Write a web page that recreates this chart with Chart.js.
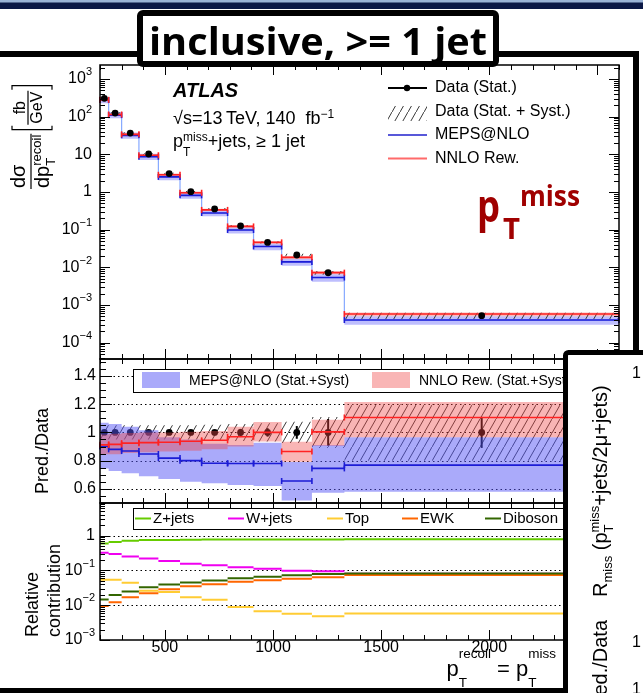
<!DOCTYPE html>
<html>
<head>
<meta charset="utf-8">
<title>pTmiss inclusive</title>
<script src="https://cdn.jsdelivr.net/npm/chart.js@4.4.1/dist/chart.umd.min.js"></script>
<style>
  html, body { margin: 0; padding: 0; background: #fff; }
  body { position: relative; width: 643px; height: 693px; overflow: hidden; }
  canvas { position: absolute; left: 0; }
</style>
</head>
<body>
<canvas id="spectrum" width="643" height="369" style="top:0px"></canvas>
<canvas id="ratio" width="643" height="164" style="top:349px"></canvas>
<canvas id="fractions" width="643" height="200" style="top:493px"></canvas>
<canvas id="slide" width="643" height="693" style="top:0px"></canvas>
<script>
const FONT = '"Liberation Sans", Arial, sans-serif';

// binning in GeV
const binEdges = [200, 240, 300, 380, 470, 570, 670, 790, 910, 1040, 1180, 1330, 2600];

// measured cross section [fb/GeV] and relative uncertainties
const dataXsec = [307, 125, 36.8, 10.2, 3.08, 1.02, 0.355, 0.126, 0.046, 0.0213, 0.0072, 0.00052];
const dataStat = [0.005, 0.006, 0.008, 0.01, 0.012, 0.015, 0.018, 0.025, 0.03, 0.045, 0.095, 0.11];
const dataSyst = [0.05, 0.05, 0.05, 0.05, 0.05, 0.05, 0.055, 0.06, 0.065, 0.075, 0.11, 0.2];

// predictions divided by data
const mepsRatio = [0.90, 0.88, 0.868, 0.847, 0.818, 0.80, 0.782, 0.78, 0.78, 0.656, 0.745, 0.768];
const mepsLo = [0.745, 0.727, 0.71, 0.69, 0.67, 0.65, 0.64, 0.627, 0.62, 0.517, 0.573, 0.58];
const mepsHi = [1.068, 1.059, 1.04, 1.016, 0.965, 0.95, 0.92, 0.91, 0.926, 0.79, 0.91, 0.965];
const nnloRatio = [0.912, 0.915, 0.924, 0.928, 0.93, 0.937, 0.944, 0.969, 1.0, 0.865, 1.004, 1.106];
const nnloLo = [0.845, 0.845, 0.855, 0.86, 0.865, 0.87, 0.88, 0.90, 0.935, 0.792, 0.905, 0.965];
const nnloHi = [0.985, 0.99, 0.995, 1.0, 1.0, 1.005, 1.01, 1.04, 1.073, 0.934, 1.09, 1.216];

// relative contribution of each process
const zJets = [0.59, 0.65, 0.71, 0.74, 0.75, 0.76, 0.77, 0.77, 0.77, 0.77, 0.77, 0.78];
const wJets = [0.32, 0.295, 0.25, 0.22, 0.185, 0.155, 0.139, 0.122, 0.112, 0.098, 0.094, 0.08];
const topQuark = [0.054, 0.054, 0.044, 0.026, 0.024, 0.017, 0.0144, 0.0088, 0.0067, 0.0057, 0.0048, 0.0058];
const ewk = [0.0094, 0.0122, 0.017, 0.022, 0.0287, 0.035, 0.040, 0.047, 0.052, 0.057, 0.063, 0.074];
const diboson = [0.0146, 0.0195, 0.0246, 0.0327, 0.039, 0.0446, 0.0508, 0.059, 0.066, 0.072, 0.079, 0.081];

// axis ticks
const xTicks = [500, 1000, 1500, 2000, 2500];
const xLabels = ['500', '1000', '1500', '2000', '2500'];
const mainYTicks = [1e3, 1e2, 10, 1, 1e-1, 1e-2, 1e-3, 1e-4];
const mainYLabels = ['10^3', '10^2', '10', '1', '10^-1', '10^-2', '10^-3', '10^-4'];
const ratioYTicks = [0.6, 0.8, 1, 1.2, 1.4];
const ratioYLabels = ['0.6', '0.8', '1', '1.2', '1.4'];
const relYTicks = [1, 0.1, 0.01, 0.001];
const relYLabels = ['1', '10^-1', '10^-2', '10^-3'];

const hatch = makeHatch();

function makeHatch() {
	const c = document.createElement('canvas');
	c.width = 8; c.height = 14;
	const g = c.getContext('2d');
	g.strokeStyle = '#3a3a3a';
	g.lineWidth = 1;
	g.beginPath();
	g.moveTo(-1, 15.75); g.lineTo(9, -1.75);
	g.stroke();
	return g.createPattern(c, 'repeat');
}

function font(size, style) {
	return (style || '') + ' ' + size + 'px ' + FONT;
}

function seg(ctx, x1, y1, x2, y2) {
	ctx.beginPath(); ctx.moveTo(x1, y1); ctx.lineTo(x2, y2); ctx.stroke();
}

// text runs with sub/superscripts, adv:false keeps the pen where it is
function drawRuns(ctx, runs, x, y, align) {
	let total = 0;
	runs.forEach(r => {
		ctx.font = font(r.size, r.style);
		r.w = ctx.measureText(r.t).width;
		if (r.adv !== false) total += r.w;
	});
	let cx = align === 'right' ? x - total : align === 'center' ? x - total / 2 : x;
	ctx.textAlign = 'left';
	runs.forEach(r => {
		ctx.font = font(r.size, r.style);
		ctx.fillText(r.t, cx, y + (r.dy || 0));
		if (r.adv !== false) cx += r.w;
	});
}

function tickLabel(ctx, lbl, x, y, size, align) {
	const parts = lbl.split('^');
	const runs = [{t: parts[0], size: size}];
	if (parts[1]) runs.push({t: parts[1].replace('-', '\u2212'), size: Math.round(size * 0.7), dy: -size * 0.42});
	drawRuns(ctx, runs, x, y, align);
}

function binCenters() {
	return binEdges.slice(0, -1).map((e, i) => (e + binEdges[i + 1]) / 2);
}

function stepLine(vals) {
	const pts = vals.map((v, i) => ({x: binEdges[i], y: v}));
	pts.push({x: binEdges[vals.length], y: vals[vals.length - 1]});
	return pts;
}

function segments(vals) {
	const pts = [];
	vals.forEach((v, i) => {
		pts.push({x: binEdges[i], y: v}, {x: binEdges[i + 1], y: v}, {x: binEdges[i + 1], y: null});
	});
	return pts;
}

function pushBand(ds, lo, hi, color, order) {
	const loIndex = ds.length;
	ds.push({data: stepLine(lo), stepped: 'before', borderColor: 'rgba(0,0,0,0)', borderWidth: 0, fill: false, order: order});
	ds.push({data: stepLine(hi), stepped: 'before', borderColor: 'rgba(0,0,0,0)', borderWidth: 0, backgroundColor: color, fill: {target: loIndex}, order: order - 1});
}

function yTickList(scale, cfg) {
	const out = [];
	if (cfg.log) {
		for (let d = Math.floor(Math.log10(scale.min)); d <= Math.ceil(Math.log10(scale.max)); d++) {
			for (let k = 1; k <= 9; k++) {
				const v = k * Math.pow(10, d);
				if (v >= scale.min && v <= scale.max) out.push({v: v, major: k === 1});
			}
		}
	} else {
		for (let i = 10; i <= 30; i++) out.push({v: i * 0.05, major: i % 4 === 0});
	}
	return out;
}

// ROOT style frame: inward ticks on all four sides, labels, dotted guides
function rootAxes(cfg) {
	return {
		id: 'rootAxes',
		beforeDatasetsDraw(chart) {
			const {ctx, chartArea: a, scales: {y}} = chart;
			ctx.save();
			ctx.strokeStyle = '#000';
			ctx.lineWidth = 1;
			ctx.setLineDash([1.5, 3]);
			(cfg.dotted || []).forEach(v => {
				const py = Math.round(y.getPixelForValue(v)) + 0.5;
				seg(ctx, a.left, py, a.right, py);
			});
			ctx.restore();
		},
		afterDatasetDraw(chart, args) {
			const ds = chart.data.datasets[args.index];
			const {ctx, scales: {x, y}} = chart;
			ctx.save();
			if (ds.caps) {
				ctx.strokeStyle = ds.borderColor;
				ctx.lineWidth = ds.borderWidth;
				ds.data.forEach(p => {
					if (p.y == null) return;
					const px = x.getPixelForValue(p.x), py = y.getPixelForValue(p.y);
					seg(ctx, px, py - 3, px, py + 3);
				});
			}
			if (ds.yErr) {
				ctx.strokeStyle = '#000';
				ctx.lineWidth = ds.errWidth;
				ds.data.forEach((p, i) => {
					const e = ds.yErr[i];
					const px = x.getPixelForValue(p.x);
					seg(ctx, px, y.getPixelForValue(p.y - e), px, y.getPixelForValue(p.y + e));
				});
			}
			ctx.restore();
		},
		afterDraw(chart) {
			const {ctx, chartArea: a, scales: {x, y}} = chart;
			ctx.save();
			ctx.strokeStyle = '#000';
			ctx.fillStyle = '#000';
			ctx.lineWidth = 1;
			for (let v = 200; v <= 2600; v += 100) {
				const px = Math.round(x.getPixelForValue(v)) + 0.5;
				const len = v % 500 === 0 ? cfg.xMajor : cfg.xMinor;
				seg(ctx, px, a.bottom, px, a.bottom - len);
				seg(ctx, px, a.top, px, a.top + len);
			}
			yTickList(y, cfg).forEach(t => {
				const py = Math.round(y.getPixelForValue(t.v)) + 0.5;
				const len = t.major ? cfg.yMajor : cfg.yMinor;
				seg(ctx, a.left, py, a.left + len, py);
				seg(ctx, a.right, py, a.right - len, py);
			});
			ctx.lineWidth = 1.5;
			ctx.strokeRect(a.left, a.top, a.right - a.left, a.bottom - a.top);

			ctx.textBaseline = 'middle';
			cfg.yTicks.forEach((v, i) => tickLabel(ctx, cfg.yLabels[i], cfg.labelRight, y.getPixelForValue(v), 16, 'right'));
			if (cfg.xLabels) {
				xTicks.forEach((v, i) => tickLabel(ctx, xLabels[i], x.getPixelForValue(v), cfg.xLabelY, 16, 'center'));
			}
			ctx.textBaseline = 'alphabetic';
			if (cfg.extra) {
				ctx.translate(0, -cfg.offset);
				cfg.extra(ctx);
			}
			ctx.restore();
		}
	};
}

function baseOptions(yScale, pad) {
	return {
		responsive: false,
		animation: false,
		devicePixelRatio: 1,
		events: [],
		layout: {padding: pad},
		elements: {point: {radius: 0, hoverRadius: 0}, line: {tension: 0}},
		scales: {
			x: {type: 'linear', min: 200, max: 2600, display: false},
			y: Object.assign({display: false}, yScale)
		},
		plugins: {legend: {display: false}, tooltip: {enabled: false}}
	};
}

function bracket(ctx, u, v0, v1, dir) {
	ctx.beginPath();
	ctx.moveTo(u + 4 * dir, v0); ctx.lineTo(u, v0); ctx.lineTo(u, v1); ctx.lineTo(u + 4 * dir, v1);
	ctx.stroke();
}

function spectrumText(ctx) {
	// y title: dsigma/dpT [fb/GeV]
	ctx.save();
	ctx.translate(31, 189);
	ctx.rotate(-Math.PI / 2);
	ctx.textAlign = 'left';
	ctx.font = font(20);
	const wdp = ctx.measureText('dp').width;
	ctx.fillText('d\u03C3', 1, -6);
	ctx.fillText('dp', 1, 18);
	ctx.font = font(13);
	ctx.fillText('T', 1 + wdp, 24);
	ctx.fillText('recoil', 1 + wdp, 10);
	const end = 2 + wdp + ctx.measureText('recoil').width;
	ctx.lineWidth = 1.2;
	seg(ctx, 0, 0, end, 0);
	const b0 = end + 4;
	ctx.font = font(16);
	const wG = ctx.measureText('GeV').width, wf = ctx.measureText('fb').width;
	bracket(ctx, b0, -19, 21, 1);
	ctx.fillText('fb', b0 + 6 + (wG - wf) / 2, -6);
	ctx.fillText('GeV', b0 + 6, 11);
	seg(ctx, b0 + 5, -3, b0 + 7 + wG, -3);
	bracket(ctx, b0 + 12 + wG, -19, 21, -1);
	ctx.restore();

	ctx.fillStyle = '#000';
	ctx.font = font(20, 'italic bold');
	ctx.fillText('ATLAS', 173, 97);
	drawRuns(ctx, [
		{t: '\u221As=13\u2009TeV, 140  fb', size: 18},
		{t: '\u22121', size: 12, dy: -6}
	], 173, 124, 'left');
	drawRuns(ctx, [
		{t: 'p', size: 18},
		{t: 'T', size: 12, dy: 9, adv: false},
		{t: 'miss', size: 12, dy: -6},
		{t: '+jets, \u2265 1 jet', size: 18}
	], 173, 147, 'left');

	// legend
	ctx.strokeStyle = '#000';
	ctx.lineWidth = 2;
	seg(ctx, 388, 88, 427, 88);
	ctx.beginPath(); ctx.arc(407, 88, 3.2, 0, Math.PI * 2); ctx.fill();
	ctx.fillStyle = hatch;
	ctx.fillRect(388, 106, 39, 15);
	ctx.lineWidth = 1.5;
	ctx.strokeStyle = '#2020cc';
	seg(ctx, 388, 135, 427, 135);
	ctx.lineWidth = 2;
	ctx.strokeStyle = '#ff6a6a';
	seg(ctx, 388, 158.5, 427, 158.5);
	ctx.fillStyle = '#000';
	ctx.font = font(16);
	ctx.textBaseline = 'middle';
	ctx.fillText('Data (Stat.)', 435, 88);
	ctx.fillText('Data (Stat. + Syst.)', 435, 112);
	ctx.fillText('MEPS@NLO', 435, 134.5);
	ctx.fillText('NNLO Rew.', 435, 158.5);
	ctx.textBaseline = 'alphabetic';
}

function ratioText(ctx) {
	ctx.save();
	ctx.translate(48, 451);
	ctx.rotate(-Math.PI / 2);
	ctx.textAlign = 'center';
	ctx.font = font(18);
	ctx.fillText('Pred./Data', 0, 0);
	ctx.restore();

	ctx.fillStyle = '#fff';
	ctx.fillRect(133, 369, 470, 23);
	ctx.strokeStyle = '#000';
	ctx.lineWidth = 1;
	ctx.strokeRect(133.5, 369.5, 470, 23);
	ctx.fillStyle = 'rgba(85,85,245,0.5)';
	ctx.fillRect(142, 372, 38, 16);
	ctx.fillStyle = 'rgba(240,70,70,0.4)';
	ctx.fillRect(372, 372, 38, 16);
	ctx.fillStyle = '#000';
	ctx.font = font(14);
	ctx.textBaseline = 'middle';
	ctx.fillText('MEPS@NLO (Stat.+Syst)', 189, 381);
	ctx.fillText('NNLO Rew. (Stat.+Syst)', 419, 381);
	ctx.textBaseline = 'alphabetic';
}

function fractionText(ctx) {
	ctx.save();
	ctx.translate(0, 637);
	ctx.rotate(-Math.PI / 2);
	ctx.textAlign = 'left';
	ctx.font = font(18);
	ctx.fillText('Relative', 0, 38);
	ctx.fillText('contribution', 0, 60);
	ctx.restore();

	ctx.fillStyle = '#fff';
	ctx.fillRect(133, 508, 470, 21);
	ctx.strokeStyle = '#000';
	ctx.lineWidth = 1;
	ctx.strokeRect(133.5, 508.5, 470, 21);
	const items = [
		['Z+jets', '#66cc00', 135],
		['W+jets', '#f000f0', 228],
		['Top', '#ffcc33', 327],
		['EWK', '#ff6600', 402],
		['Diboson', '#336600', 485]
	];
	ctx.font = font(15);
	ctx.textBaseline = 'middle';
	items.forEach(it => {
		ctx.strokeStyle = it[1];
		ctx.lineWidth = 2;
		seg(ctx, it[2], 518.5, it[2] + 16, 518.5);
		ctx.fillStyle = '#000';
		ctx.fillText(it[0], it[2] + 18, 519);
	});
	ctx.textBaseline = 'alphabetic';

	drawRuns(ctx, [
		{t: 'p', size: 22},
		{t: 'T', size: 13.5, dy: 11, adv: false},
		{t: 'recoil', size: 13.5, dy: -18},
		{t: ' = p', size: 22},
		{t: 'T', size: 13.5, dy: 11, adv: false},
		{t: 'miss', size: 13.5, dy: -18}
	], 556, 676, 'right');
}

function buildSpectrum() {
	const ds = [];
	const mid = binCenters();
	const scaled = r => r.map((v, i) => v * dataXsec[i]);
	pushBand(ds, scaled(mepsLo), scaled(mepsHi), 'rgba(110,110,250,0.45)', 20);
	pushBand(ds, scaled(nnloLo), scaled(nnloHi), 'rgba(245,90,90,0.4)', 18);
	pushBand(ds, dataXsec.map((v, i) => v * (1 - dataSyst[i])), dataXsec.map((v, i) => v * (1 + dataSyst[i])), hatch, 16);
	ds.push({data: stepLine(scaled(mepsRatio)), stepped: 'before', borderColor: '#86a9ff', borderWidth: 1.2, order: 6});
	ds.push({data: segments(scaled(mepsRatio)), borderColor: '#1c1cd6', borderWidth: 1.6, caps: true, order: 5});
	ds.push({data: segments(scaled(nnloRatio)), borderColor: '#ff2222', borderWidth: 1.6, caps: true, order: 4});
	ds.push({
		data: mid.map((c, i) => ({x: c, y: dataXsec[i]})),
		showLine: false, pointRadius: 3.4, pointBackgroundColor: '#000', pointBorderColor: '#000', pointBorderWidth: 0,
		yErr: dataXsec.map((v, i) => v * dataStat[i]), errWidth: 1.5, order: 1
	});

	new Chart(document.getElementById('spectrum'), {
		type: 'line',
		data: {datasets: ds},
		options: baseOptions({type: 'logarithmic', min: Math.pow(10, -4.433), max: Math.pow(10, 3.372)},
			{left: 100, right: 24, top: 65, bottom: 10}),
		plugins: [rootAxes({
			log: true, xMajor: 10, xMinor: 5, yMajor: 10, yMinor: 5,
			yTicks: mainYTicks, yLabels: mainYLabels, labelRight: 92,
			offset: 0, extra: spectrumText
		})]
	});
}

function buildRatio() {
	const ds = [];
	const mid = binCenters();
	pushBand(ds, dataSyst.map(s => 1 - s), dataSyst.map(s => 1 + s), hatch, 31);
	ds.push({
		data: mid.map(c => ({x: c, y: 1})),
		showLine: false, pointRadius: 3.4, pointBackgroundColor: '#000', pointBorderColor: '#000', pointBorderWidth: 0,
		yErr: dataStat, errWidth: 2, order: 25
	});
	pushBand(ds, mepsLo, mepsHi, 'rgba(85,85,245,0.5)', 21);
	pushBand(ds, nnloLo, nnloHi, 'rgba(240,70,70,0.4)', 18);
	ds.push({data: segments(mepsRatio), borderColor: '#1c1cd6', borderWidth: 1.6, caps: true, order: 5});
	ds.push({data: segments(nnloRatio), borderColor: '#ff2222', borderWidth: 1.6, caps: true, order: 4});

	new Chart(document.getElementById('ratio'), {
		type: 'line',
		data: {datasets: ds},
		options: baseOptions({type: 'linear', min: 0.5, max: 1.52}, {left: 100, right: 24, top: 10, bottom: 10}),
		plugins: [rootAxes({
			log: false, xMajor: 10, xMinor: 5, yMajor: 12, yMinor: 6,
			yTicks: ratioYTicks, yLabels: ratioYLabels, labelRight: 96,
			dotted: [0.6, 0.8, 1, 1.2, 1.4],
			offset: 349, extra: ratioText
		})]
	});
}

function buildFractions() {
	const lines = [
		[zJets, '#66cc00'],
		[wJets, '#f000f0'],
		[topQuark, '#ffcc33'],
		[ewk, '#ff6600'],
		[diboson, '#336600']
	];
	const ds = lines.map((l, i) => ({data: segments(l[0]), borderColor: l[1], borderWidth: 2, order: 10 - i}));

	new Chart(document.getElementById('fractions'), {
		type: 'line',
		data: {datasets: ds},
		options: baseOptions({type: 'logarithmic', min: 1e-3, max: Math.pow(10, 0.934)}, {left: 100, right: 24, top: 10, bottom: 53}),
		plugins: [rootAxes({
			log: true, xMajor: 10, xMinor: 5, yMajor: 10, yMinor: 5,
			yTicks: relYTicks, yLabels: relYLabels, labelRight: 95,
			dotted: [1, 0.1, 0.01],
			xLabels: true, xLabelY: 155,
			offset: 493, extra: fractionText
		})]
	});
}

function fitText(ctx, t, x, y, width) {
	const w = ctx.measureText(t).width;
	ctx.save();
	ctx.translate(x, y);
	ctx.scale(width / w, 1);
	ctx.fillText(t, 0, 0);
	ctx.restore();
}

// slide furniture around the plot
function drawSlide() {
	const ctx = document.getElementById('slide').getContext('2d');
	ctx.fillStyle = '#0b1846';
	ctx.fillRect(0, 0, 643, 9);
	ctx.fillStyle = '#9ab3d6';
	ctx.fillRect(0, 0, 643, 2.5);

	ctx.strokeStyle = '#000';
	ctx.lineWidth = 6;
	ctx.strokeRect(-10, 54, 646, 637);

	ctx.fillStyle = '#fff';
	ctx.beginPath();
	ctx.roundRect(140, 13, 356, 51, 3);
	ctx.fill();
	ctx.stroke();
	ctx.fillStyle = '#000';
	ctx.textAlign = 'left';
	ctx.font = '700 37px "Open Sans"';
	const title = 'inclusive, >= 1 jet';
	const tw = 338;
	fitText(ctx, title, 318 - tw / 2, 55, tw);

	ctx.fillStyle = '#a00000';
	ctx.font = '700 44px "Open Sans"';
	fitText(ctx, 'p', 477, 222, 23);
	ctx.font = '700 29px "Open Sans"';
	fitText(ctx, 'T', 503, 239, 17);
	ctx.font = '700 28px "Open Sans"';
	fitText(ctx, 'miss', 520, 206, 60);

	// neighbouring panel peeking in from the right
	ctx.fillStyle = '#fff';
	ctx.lineWidth = 5;
	ctx.beginPath();
	ctx.roundRect(565.5, 352.5, 100, 400, 3);
	ctx.fill();
	ctx.stroke();
	ctx.fillStyle = '#000';
	ctx.font = font(16);
	ctx.fillText('1', 632, 378);
	ctx.fillText('1', 632, 647);
	ctx.fillText('1', 632, 694);
	ctx.save();
	ctx.translate(607, 597);
	ctx.rotate(-Math.PI / 2);
	drawRuns(ctx, [
		{t: 'R', size: 20},
		{t: 'miss', size: 13, dy: 5},
		{t: ' (p', size: 20},
		{t: 'T', size: 13, dy: 6, adv: false},
		{t: 'miss', size: 13, dy: -8},
		{t: '+jets/2\u03BC+jets)', size: 20}
	], 0, 0, 'left');
	ctx.restore();
	ctx.save();
	ctx.translate(607, 620);
	ctx.rotate(-Math.PI / 2);
	ctx.textAlign = 'right';
	ctx.font = font(20);
	ctx.fillText('Pred./Data', 0, 0);
	ctx.restore();
}

buildSpectrum();
buildRatio();
buildFractions();
drawSlide();
</script>
</body>
</html>
